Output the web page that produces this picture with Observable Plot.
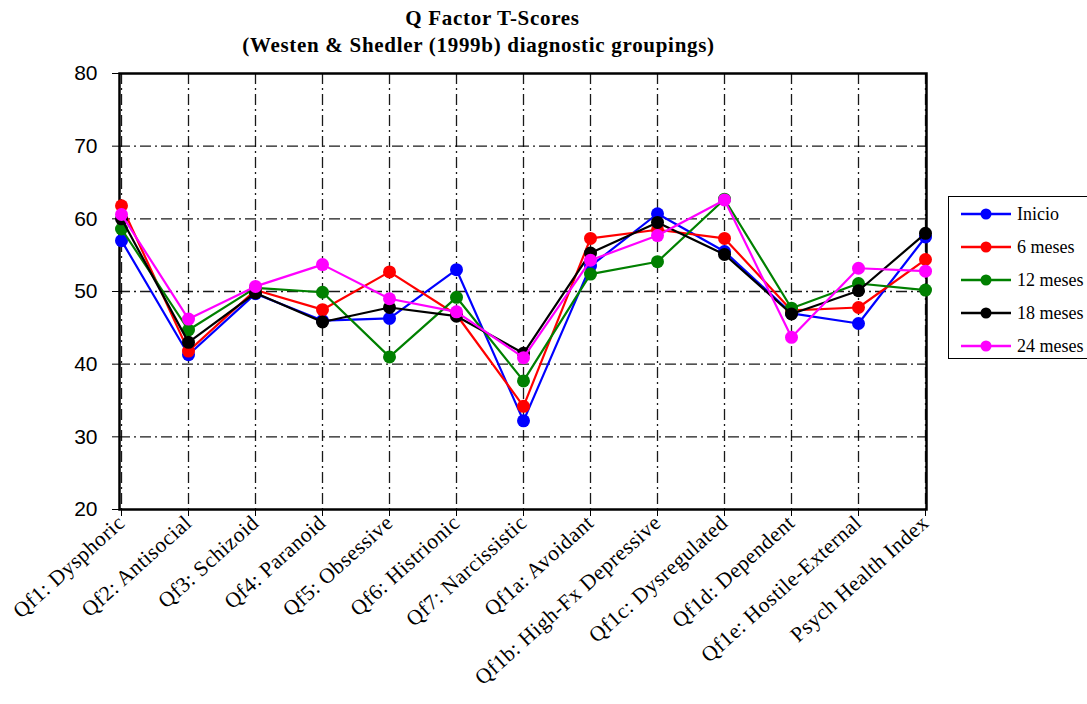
<!DOCTYPE html>
<html>
<head>
<meta charset="utf-8">
<script src="https://cdn.jsdelivr.net/npm/d3@7"></script>
<script src="https://cdn.jsdelivr.net/npm/@observablehq/plot@0.6"></script>
<style>
  html, body { margin: 0; padding: 0; background: #fff; }
  #wrap { position: relative; width: 1087px; height: 704px; overflow: hidden; }
  .title { position: absolute; left: 0; width: 970px; text-align: center;
    font-family: "Liberation Serif", "Times New Roman", serif; font-weight: bold; font-size: 21px; letter-spacing: 0.7px; color: #000; white-space: nowrap; }
  #legend { position: absolute; left: 948px; top: 196px; width: 150px; height: 163px; border: 1px solid #000; box-sizing: border-box; background: #fff;
    font-family: "Liberation Serif", "Times New Roman", serif; font-size: 18px; }
  .row { position: absolute; left: 11px; height: 22px; display: flex; align-items: center; }
  .row svg { margin-right: 5px; }
  .xax text { letter-spacing: 0.5px; }
</style>
</head>
<body>
<div id="wrap">
  <div id="chart"></div>
  <div class="title" style="top:6px; left:10px; width:965px;">Q Factor T-Scores</div>
  <div class="title" style="top:33px; left:0px; width:957px;">(Westen &amp; Shedler (1999b) diagnostic groupings)</div>
  <div id="legend"></div>
</div>
<script>
const categories = ["Qf1: Dysphoric", "Qf2: Antisocial", "Qf3: Schizoid", "Qf4: Paranoid", "Qf5: Obsessive", "Qf6: Histrionic", "Qf7: Narcissistic", "Qf1a: Avoidant", "Qf1b: High-Fx Depressive", "Qf1c: Dysregulated", "Qf1d: Dependent", "Qf1e: Hostile-External", "Psych Health Index"];
const seriesNames = ["Inicio", "6 meses", "12 meses", "18 meses", "24 meses"];
const seriesColors = ["#0000FF", "#FF0000", "#008000", "#000000", "#FF00FF"];
const inicio   = [57.0, 41.3, 49.7, 46.0, 46.3, 53.0, 32.2, 53.5, 60.7, 55.5, 47.0, 45.6, 57.5];
const meses6   = [61.8, 41.8, 50.2, 47.5, 52.7, 46.8, 34.2, 57.3, 58.5, 57.3, 47.4, 47.8, 54.4];
const meses12  = [58.6, 44.7, 50.5, 49.9, 41.0, 49.2, 37.7, 52.4, 54.1, 62.7, 47.7, 51.1, 50.2];
const meses18  = [60.0, 43.0, 49.8, 45.8, 47.8, 46.6, 41.5, 55.3, 59.5, 55.1, 46.9, 50.1, 58.0];
const meses24  = [60.6, 46.2, 50.7, 53.7, 49.0, 47.2, 40.9, 54.3, 57.7, 62.6, 43.7, 53.2, 52.8];
const yTicks = [20, 30, 40, 50, 60, 70, 80];
const gridTicks = [30, 40, 50, 60, 70];

const allValues = [inicio, meses6, meses12, meses18, meses24];
const serif = "'Liberation Serif', 'Times New Roman', serif";
const sans = "'Liberation Sans', Arial, sans-serif";

const marks = [
  Plot.gridX(categories, {stroke: "#000", strokeOpacity: 0.9, strokeWidth: 1.3, strokeDasharray: "11,4,2,4"}),
  Plot.gridY(gridTicks, {stroke: "#000", strokeOpacity: 0.9, strokeWidth: 1.3, strokeDasharray: "11,4,2,4"}),
  Plot.frame({stroke: "#000", strokeWidth: 2.5}),
  Plot.axisY(yTicks, {tickSize: 7, tickPadding: 15, fontSize: 21, fontFamily: sans, label: null, strokeWidth: 1}),
  Plot.axisX(categories, {tickSize: 7, tickPadding: 3, tickRotate: -42, fontSize: 21.5, fontFamily: serif, label: null, className: "xax"})
];
allValues.forEach((vals, i) => {
  const data = categories.map((c, j) => ({cat: c, value: vals[j]}));
  marks.push(Plot.line(data, {x: "cat", y: "value", stroke: seriesColors[i], strokeWidth: 2.2}));
  marks.push(Plot.dot(data, {x: "cat", y: "value", fill: seriesColors[i], r: 6.5}));
});

const chart = Plot.plot({
  width: 1087,
  height: 704,
  marginLeft: 119,
  marginRight: 161,
  marginTop: 73,
  marginBottom: 195,
  style: {background: "#fff", overflow: "visible"},
  x: {type: "point", domain: categories, padding: 0},
  y: {domain: [20, 80]},
  marks
});
document.getElementById("chart").appendChild(chart);

const legend = document.getElementById("legend");
seriesNames.forEach((name, i) => {
  const row = document.createElement("div");
  row.className = "row";
  row.style.top = (6 + i * 33) + "px";
  row.innerHTML = `<svg width="52" height="14"><line x1="1" y1="7" x2="51" y2="7" stroke="${seriesColors[i]}" stroke-width="2.5"/><circle cx="26" cy="7" r="5.5" fill="${seriesColors[i]}"/></svg><span>${name}</span>`;
  legend.appendChild(row);
});
</script>
</body>
</html>
